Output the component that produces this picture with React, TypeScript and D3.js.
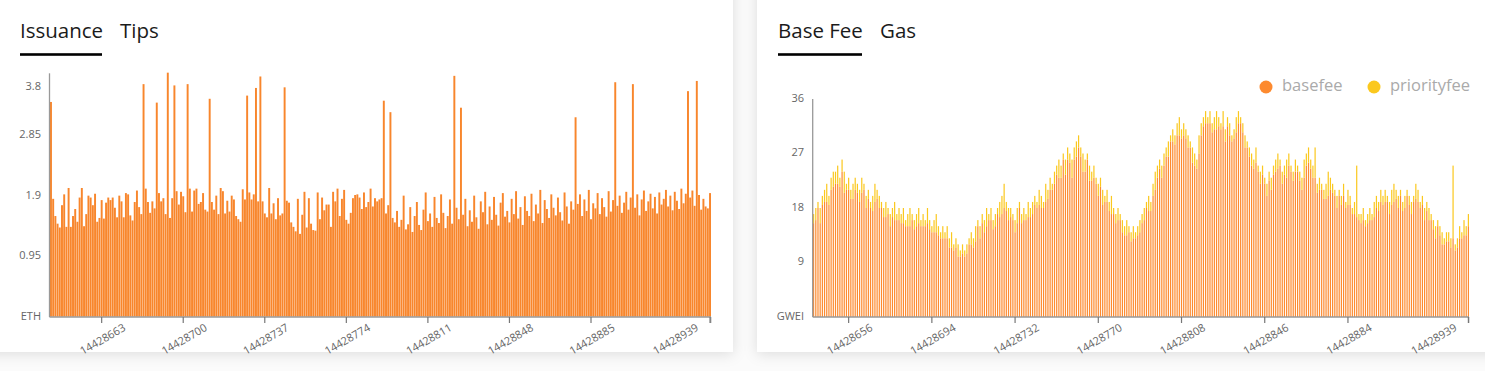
import React from 'react';
import * as d3 from 'd3';

const FIRST_BLOCK = 14428640;

const issuance = [
  3.37,1.85,1.58,1.46,1.40,1.75,1.92,1.41,2.02,1.41,
  1.58,1.69,1.49,1.87,2.02,1.42,1.61,1.90,1.87,1.75,
  1.93,1.49,1.55,1.83,1.54,1.79,1.87,1.83,1.87,1.71,
  1.56,1.90,1.81,1.56,1.94,1.92,1.59,1.51,1.80,1.98,
  1.72,1.61,3.65,2.01,1.80,1.63,1.81,1.70,3.36,1.94,
  1.81,1.86,1.61,3.83,1.55,1.86,3.63,1.97,1.76,1.96,
  1.89,1.64,3.65,2.01,1.65,1.98,2.01,1.77,1.80,1.94,
  1.68,1.65,3.42,1.80,1.68,1.90,1.61,2.02,1.97,1.62,
  1.82,1.65,1.90,1.84,1.58,1.53,1.49,2.00,1.84,3.47,
  1.95,1.84,1.92,3.59,1.81,3.77,1.81,1.62,1.56,2.02,
  1.62,1.78,1.53,1.86,1.59,1.62,3.60,1.82,1.79,1.48,
  1.41,1.34,1.85,1.30,1.60,1.96,1.40,1.86,1.46,1.36,
  1.35,1.95,1.53,1.87,1.67,1.76,1.76,1.41,1.96,1.81,
  2.01,1.58,1.85,1.99,1.52,1.46,1.63,1.86,1.91,1.92,
  1.87,1.69,1.95,1.72,1.80,2.01,1.73,1.86,1.81,1.84,
  1.86,3.39,1.62,1.75,3.21,1.55,1.48,1.66,1.41,1.52,
  1.90,1.37,1.45,1.72,1.33,1.58,1.80,1.44,1.36,1.68,
  1.95,1.50,1.62,1.41,1.88,1.55,1.47,1.92,1.63,1.39,
  1.58,1.84,1.46,3.78,1.71,1.53,3.28,1.60,1.85,1.42,
  1.67,1.49,1.90,1.56,1.38,1.81,1.64,1.96,1.45,1.73,
  1.52,1.88,1.60,1.43,1.79,1.94,1.57,1.66,1.48,1.85,
  1.61,1.97,1.54,1.72,1.44,1.89,1.66,1.58,1.93,1.50,
  1.76,1.62,1.99,1.47,1.83,1.69,1.55,1.92,1.71,1.59,
  1.87,1.64,1.51,1.95,1.73,1.46,1.81,1.68,3.13,1.77,
  1.92,1.58,1.84,1.66,1.99,1.53,1.78,1.70,1.94,1.61,
  1.86,1.72,1.57,1.97,1.65,1.83,3.68,1.74,1.90,1.63,
  1.79,1.96,1.68,1.87,3.65,1.71,1.92,1.59,1.84,1.98,
  1.66,1.81,1.93,1.70,1.88,1.62,1.95,1.76,1.85,1.99,
  1.73,1.90,1.67,1.96,1.82,1.69,2.01,1.78,1.93,3.54,
  1.87,1.98,1.74,3.70,1.91,1.68,1.85,1.73,1.70,1.94,
];

const basefee = [
  15.5,16,18,15.5,18.5,19,19,18.5,21,21.5,
  22,22,21.5,24,20.5,21,21,19.5,19.5,21,
  20.5,19,20.5,21,18,19.5,18,17.5,19,19.5,
  18,18,16.5,16.5,17,15,16.5,16,16,16,
  15.5,15.5,15,15,15,16,14.5,15,15.5,15,
  15,15,15.5,14.5,14,14,14,13.5,13,13,
  13,13,11.5,11.5,11,11.5,10,10,10.5,10,
  10.5,12,12,11.5,12.5,15,13,15.5,14,15,
  16,16,14.5,15,17,16.5,17,18,17.5,16,
  16.5,16,14,15.5,18,15.5,16,16,16.5,16.5,
  17,18.5,18,18.5,18,18,19,19.5,21,21,
  22,23.5,23,23,26,23.5,26,25.5,23,26,
  26.5,28,26.5,24,24,26,22.5,22.5,23,22,
  20,21.5,18.5,19,19,17.5,17,17,15.5,16,
  16,14,13.5,13.5,14,12.5,13,13,13.5,14,
  15.5,16,18,17.5,17.5,20,21,23,24.5,23,
  25,26.5,26.5,29,29,28.5,30,30,29.5,30,
  29.5,28,28,25.5,25,24.5,27,30,31.5,32,
  32,32,30.5,31,31,31.5,31,31.5,29,31.5,
  30,29,29.5,30.5,32,32,30.5,28,28,26.5,
  25,24.5,25.5,24,22,23.5,22,20,22.5,21,
  23.5,24,24.5,25,22,23.5,23,25,24,22.5,
  24,24,22.5,21,23,25,25.5,24.5,23,23,
  20.5,21,21,19.5,19.5,20,21,20.5,20,18,
  20,18.5,20,18,18.5,18.5,17,17,16.5,16,
  15.5,16,15,15.5,16,16,16.5,18,17.5,19,
  18.5,19,19,17,18.5,19,19.5,18,20,17.5,
  18,20,18.5,17,19,19.5,19,18,18.5,16,
  17.5,16,16,14.5,13,15,13.5,12,12,12.5,
  12.5,11.5,13,11,11.5,13,13,13.5,13.5,15,
];

const priorityfee = [
  1.5,2,1,2.5,1.5,2,3,1.5,2,2.5,
  2,3,1.5,2,3.5,1,2,1.5,2.5,2,
  1.5,2,2.5,1,2,1.5,1,2.5,3,1.5,
  2,1,1.5,2.5,1,2,1.5,3,1,2,
  1.5,2.5,1,2,3,1,1.5,2,2.5,1,
  2,1,2.5,1.5,1,2,3,1.5,1,2,
  1,2,1.5,2.5,1,1.5,2,1,1.5,1,
  1.5,1,2,1.5,2.5,1,2,1.5,2,3,
  1,2,1.5,2,1,2.5,3,4,1.5,2,
  1.5,1,2,2.5,1,1.5,2,1,2.5,1.5,
  2,1.5,1,2.5,2,1,3,1.5,2,1,
  2,1.5,3,2,1,2.5,2,1.5,3,2,
  2.5,2,1.5,3,2,1,2.5,1.5,2,1,
  2,1.5,2.5,1,2,1.5,3,1,1.5,2,
  1,2,1.5,2.5,1,1.5,2,1,1.5,2,
  1.5,2,1,2.5,1.5,2,3,2,1.5,2,
  2,1.5,2.5,1,2,1.5,2,3,1.5,2,
  1.5,2,1,2.5,2,1.5,3,2,1.5,2,
  1,2,1.5,2,3,1.5,1,2.5,2,1.5,
  2,1,1.5,2.5,2,1,1.5,2,1,1.5,
  2,1.5,2.5,1,2,1.5,1,2,1.5,2,
  1.5,2,2.5,1,2,1.5,3,2,1,1.5,
  2,1,1.5,2,3,2,2.5,1.5,2,5,
  1.5,2,1,1.5,2.5,4,2,1.5,1,2,
  1,1.5,2,1,2.5,1.5,1,2,8.5,1,
  1.5,2,1,1.5,2,1,2.5,2,1.5,2,
  1.5,2,1,2,2.5,3,1.5,2,1,1.5,
  2,1,1.5,2,1,2.5,2,1,1.5,2,
  1.5,2,1,1.5,2,1,1.5,2,1,1.5,
  1.5,1.5,12,1,1.5,2,1,2.5,1.5,2,
];

const issuanceTicks = [14428663, 14428700, 14428737, 14428774, 14428811, 14428848, 14428885, 14428939];
const feeTicks = [14428656, 14428694, 14428732, 14428770, 14428808, 14428846, 14428884, 14428939];
const issuanceYTicks = [0.95, 1.9, 2.85, 3.8];
const feeYTicks = [9, 18, 27, 36];
const issuanceUnit = 'ETH';
const feeUnit = 'GWEI';
const leftTabs = ['Issuance', 'Tips'];
const rightTabs = ['Base Fee', 'Gas'];
const legendItems = ['basefee', 'priorityfee'];

const ORANGE = '#f8862c';
const BASE = '#fd8a2f';
const PRIO = '#fbc81e';
const FONT = '"Open Sans", sans-serif';

export default function App() {
  const W = 1485, H = 371;
  const blocks = issuance.map((_, i) => FIRST_BLOCK + i);
  const last = blocks[blocks.length - 1];

  const xL = d3.scaleBand<number>().domain(blocks).range([50, 711]).paddingInner(0.12);
  const yL = d3.scaleLinear().domain([0, 3.82]).range([316.7, 73.3]);
  const xR = d3.scaleBand<number>().domain(blocks).range([813, 1469]).paddingInner(0.45);
  const yR = d3.scaleLinear().domain([0, 36]).range([317, 99]);

  const rows = blocks.map((b, i) => ({ block: b, basefee: basefee[i], priorityfee: priorityfee[i] }));
  const series = d3.stack<any>().keys(['basefee', 'priorityfee'])(rows);
  const stackColors = [BASE, PRIO];

  const xTickLabel = (x: (b: number) => number, bw: number, b: number, y0: number, key: string) => {
    const cx = x(b) + bw / 2;
    const lx = b === last ? cx - 34 : cx + 1.5;
    return (
      <g key={key}>
        <line x1={cx} x2={cx} y1={y0} y2={y0 + 6} stroke="#777" strokeWidth={1.2} />
        <text
          transform={`translate(${lx},${y0 + 23}) rotate(-30)`}
          textAnchor="middle"
          dominantBaseline="middle"
          fontSize={11}
          fill="#666"
          fontFamily={FONT}
        >
          {b}
        </text>
      </g>
    );
  };

  return (
    <div style={{ position: 'fixed', left: 0, top: 0, width: W, height: H }}>
      <svg width={W} height={H} style={{ display: 'block' }}>
        <defs>
          <filter id="shadow" x="-5%" y="-10%" width="110%" height="125%">
            <feDropShadow dx="0" dy="2" stdDeviation="7" floodColor="#000" floodOpacity="0.12" />
          </filter>
        </defs>
        <rect x={0} y={0} width={W} height={H} fill="#fbfbfb" />
        <rect x={-20} y={-20} width={753} height={372} fill="#fff" filter="url(#shadow)" />
        <rect x={757} y={-20} width={760} height={372} fill="#fff" filter="url(#shadow)" />

        {/* Left tabs */}
        <g fontFamily={FONT} fontSize={20.5} fill="#1b1b1b">
          <text x={20} y={37.5}>{leftTabs[0]}</text>
          <text x={120} y={37.5}>{leftTabs[1]}</text>
        </g>
        <rect x={20} y={53.2} width={82} height={2.6} fill="#000" />

        {/* Right tabs */}
        <g fontFamily={FONT} fontSize={20.5} fill="#1b1b1b">
          <text x={778} y={37.5}>{rightTabs[0]}</text>
          <text x={880} y={37.5}>{rightTabs[1]}</text>
        </g>
        <rect x={778} y={53.2} width={84} height={2.6} fill="#000" />

        {/* Left chart */}
        <g>
          {issuance.map((v, i) => (
            <rect
              key={i}
              x={xL(blocks[i])}
              y={yL(v)}
              width={xL.bandwidth()}
              height={yL(0) - yL(v)}
              fill={ORANGE}
            />
          ))}
          <line x1={49.5} x2={49.5} y1={73.3} y2={317} stroke="#999" strokeWidth={1.3} />
          <line x1={49.5} x2={711} y1={317} y2={317} stroke="#999" strokeWidth={1.3} />
          <line x1={710.7} x2={710.7} y1={317} y2={323} stroke="#999" strokeWidth={1.3} />
          {issuanceYTicks.map((t) => (
            <text
              key={t}
              x={41}
              y={Math.max(yL(t), 87.3)}
              textAnchor="end"
              dominantBaseline="middle"
              fontSize={11}
              fill="#666"
              fontFamily={FONT}
            >
              {t}
            </text>
          ))}
          <text x={41} y={yL(0)} textAnchor="end" dominantBaseline="middle" fontSize={11} fill="#666" fontFamily={FONT}>
            {issuanceUnit}
          </text>
          {issuanceTicks.map((b) => xTickLabel(xL as any, xL.bandwidth(), b, 317, 'l' + b))}
        </g>

        {/* Right chart */}
        <g>
          {series.map((s, si) =>
            s.map((d, i) => (
              <rect
                key={si + '-' + i}
                x={xR(blocks[i])}
                y={yR(d[1])}
                width={xR.bandwidth()}
                height={yR(d[0]) - yR(d[1])}
                fill={stackColors[si]}
              />
            ))
          )}
          <line x1={812.7} x2={812.7} y1={99} y2={317} stroke="#999" strokeWidth={1.3} />
          <line x1={812.7} x2={1469} y1={317} y2={317} stroke="#999" strokeWidth={1.3} />
          <line x1={1468.7} x2={1468.7} y1={317} y2={323} stroke="#999" strokeWidth={1.3} />
          {feeYTicks.map((t) => (
            <text
              key={t}
              x={804}
              y={yR(t)}
              textAnchor="end"
              dominantBaseline="middle"
              fontSize={11}
              fill="#666"
              fontFamily={FONT}
            >
              {t}
            </text>
          ))}
          <text x={804} y={yR(0)} textAnchor="end" dominantBaseline="middle" fontSize={11} fill="#666" fontFamily={FONT}>
            {feeUnit}
          </text>
          {feeTicks.map((b) => xTickLabel(xR as any, xR.bandwidth(), b, 317, 'r' + b))}
        </g>

        {/* Legend */}
        <g fontFamily={FONT} fontSize={16.5} fill="#aaa">
          <circle cx={1266} cy={87} r={6.5} fill={BASE} />
          <text x={1282} y={87} dominantBaseline="middle">{legendItems[0]}</text>
          <circle cx={1374} cy={87} r={6.5} fill={PRIO} />
          <text x={1390} y={87} dominantBaseline="middle">{legendItems[1]}</text>
        </g>
      </svg>
    </div>
  );
}
